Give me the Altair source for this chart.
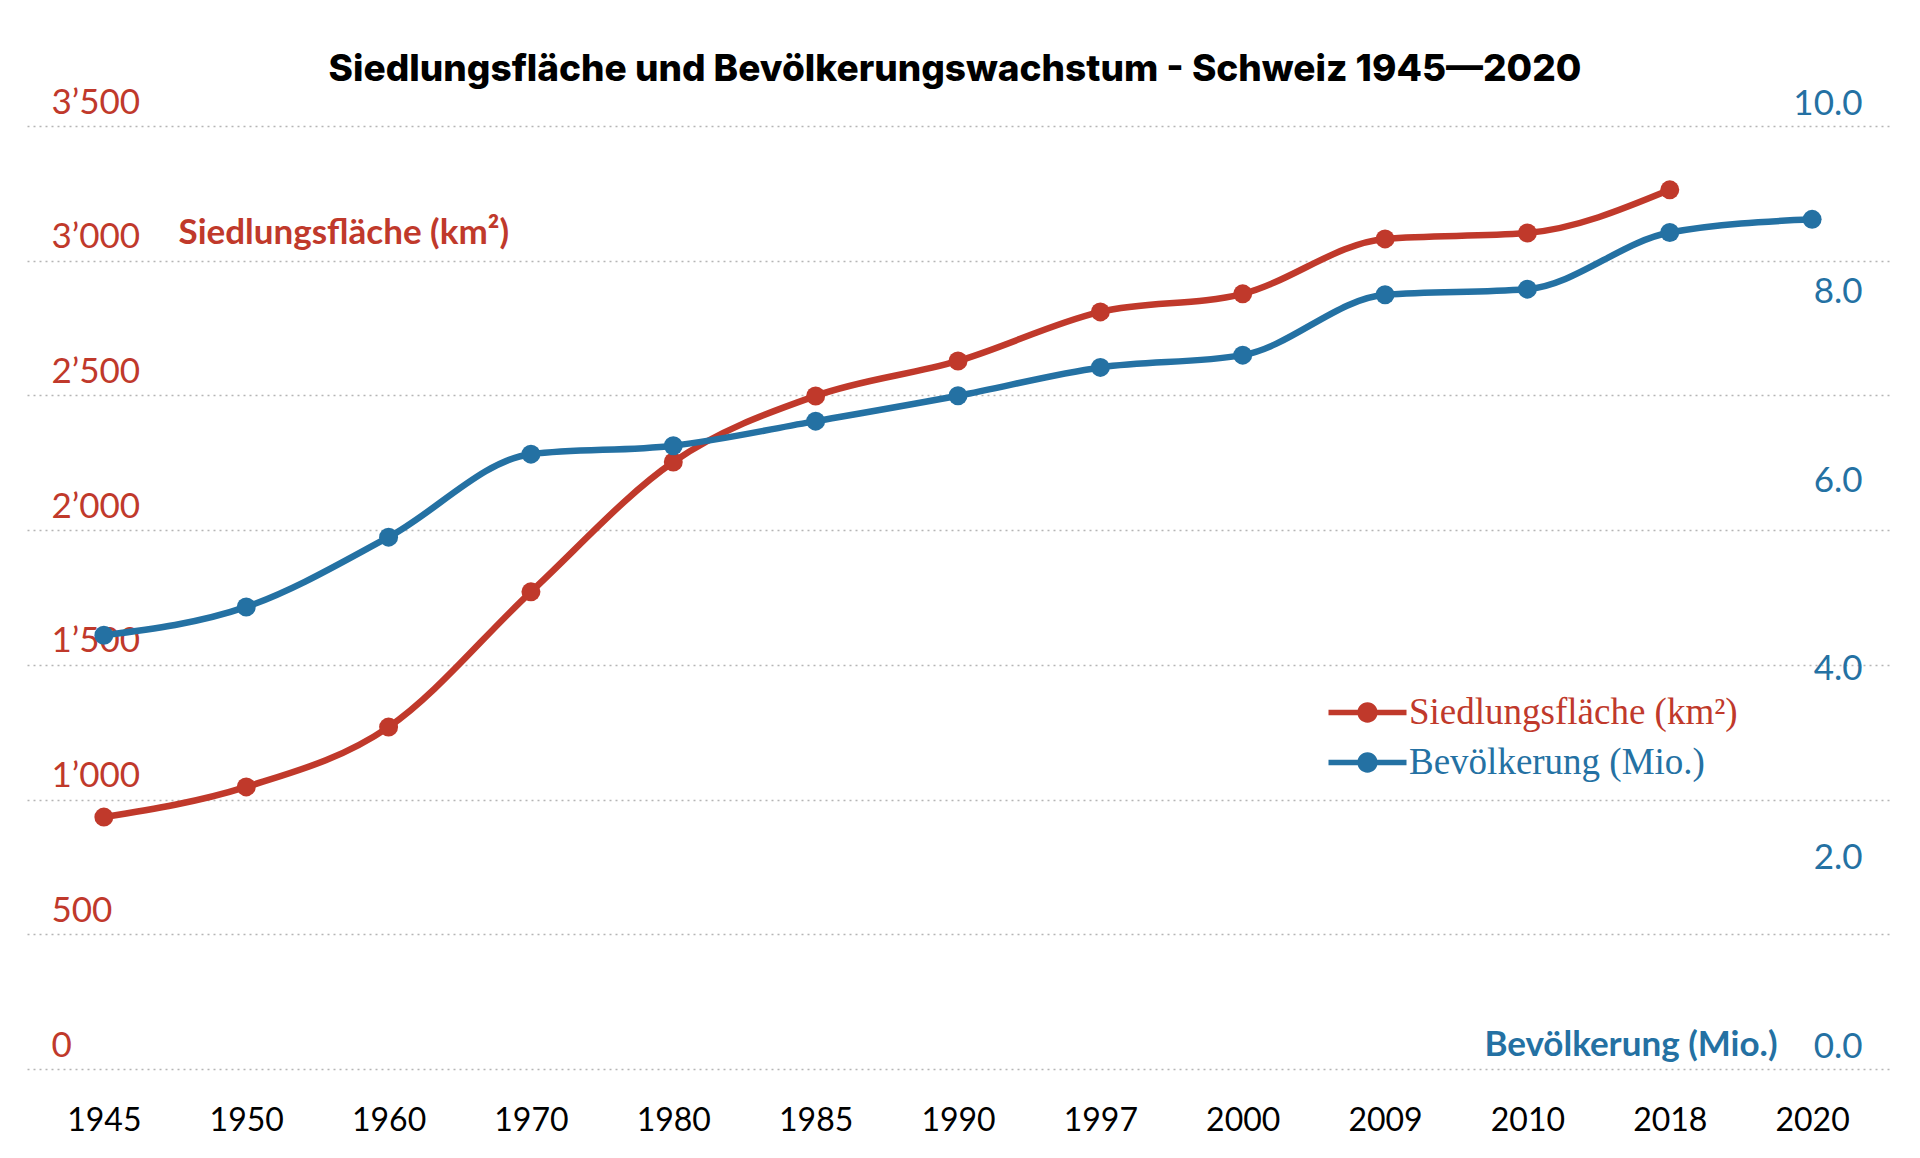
import altair as alt
import pandas as pd

# ---- data ----
years = ["1945", "1950", "1960", "1970", "1980", "1985", "1990", "1997",
         "2000", "2009", "2010", "2018", "2020"]
flaeche_years = ["1945", "1950", "1960", "1970", "1980", "1985", "1990", "1997",
                 "2000", "2009", "2010", "2018"]
flaeche_km2 = [935, 1047, 1269, 1771, 2253, 2498, 2628, 2810, 2877, 3081, 3103, 3263]
bevoelkerung_mio = [4.60, 4.90, 5.64, 6.52, 6.61, 6.87, 7.14, 7.44, 7.57, 8.21, 8.27, 8.87, 9.01]
left_ticks = [0, 500, 1000, 1500, 2000, 2500, 3000, 3500]
right_ticks = [0, 2, 4, 6, 8, 10]

name_red = "Siedlungsfläche (km²)"
name_blue = "Bevölkerung (Mio.)"
title_text = "Siedlungsfläche und Bevölkerungswachstum - Schweiz 1945—2020"

RED = "#c0392b"
BLUE = "#2471a3"

df_red = pd.DataFrame({"Jahr": flaeche_years, "Wert": flaeche_km2, "Serie": name_red})
df_blue = pd.DataFrame({"Jahr": years, "Wert": bevoelkerung_mio, "Serie": name_blue})

SANS = "Lato"
SERIF = "Liberation Serif"
LEGEND_PATH = "M-3,-0.22H3V0.22H-3Z M0.78,0A0.78,0.78,0,1,1,-0.78,0A0.78,0.78,0,1,1,0.78,0Z"

x_enc = alt.X(
    "Jahr:N",
    sort=years,
    scale=alt.Scale(type="point", domain=years, padding=0.54),
    axis=alt.Axis(
        title=None, labelAngle=0, labelFont=SANS, labelFontSize=32, labelColor="black",
        labelBaseline="alphabetic", labelPadding=61, ticks=False, tickSize=0,
        domain=False, grid=False, labelOverlap=False, labelFlush=False,
    ),
)

left_axis = alt.Axis(
    orient="left", values=left_ticks,
    labelExpr="replace(format(datum.value, ','), ',', '\u2019')",
    labelFont=SANS, labelFontSize=35, labelFontWeight="normal", labelColor=RED,
    labelAlign="left", labelBaseline="alphabetic", labelPadding=-24, labelOffset=-13,
    labelFlush=False, labelOverlap=False,
    ticks=False, tickSize=0, domain=False,
    grid=True, gridColor="#b5b5b5", gridDash=[2, 4], gridWidth=1.3,
    title=name_red, titleAngle=0, titleX=151, titleY=117, titleAlign="left",
    titleBaseline="alphabetic", titleFont=SANS, titleFontSize=35, titleFontWeight="bold",
    titleColor=RED, titleLimit=800,
)

right_axis = alt.Axis(
    orient="right", values=right_ticks, format=".1f",
    labelFont=SANS, labelFontSize=35, labelFontWeight="normal", labelColor=BLUE,
    labelAlign="right", labelBaseline="alphabetic", labelPadding=-27, labelOffset=-12,
    labelFlush=False, labelOverlap=False,
    ticks=False, tickSize=0, domain=False, grid=False,
    title=name_blue, titleAngle=0, titleX=-112, titleY=929, titleAlign="right",
    titleBaseline="alphabetic", titleFont=SANS, titleFontSize=35, titleFontWeight="bold",
    titleColor=BLUE, titleLimit=800,
)

def legend(color, ly):
    return alt.Legend(
        orient="none", legendX=1322, legendY=ly, title=None,
        symbolType=LEGEND_PATH, symbolSize=676, symbolStrokeWidth=0,
        labelFont=SERIF, labelFontSize=37, labelColor=color, labelOffset=23,
        labelLimit=600,
    )

y_red = alt.Y("Wert:Q", scale=alt.Scale(domain=[0, 3500], nice=False, zero=True), axis=left_axis)
y_blue = alt.Y("Wert:Q", scale=alt.Scale(domain=[0, 10], nice=False, zero=True), axis=right_axis)

red_line = alt.Chart(df_red).mark_line(
    interpolate="monotone", strokeWidth=6.5, color=RED
).encode(x=x_enc, y=y_red)
red_pts = alt.Chart(df_red).mark_point(filled=True, size=360, opacity=1).encode(
    x=x_enc, y=y_red,
    color=alt.Color("Serie:N", scale=alt.Scale(domain=[name_red], range=[RED]),
                    legend=legend(RED, 568)),
)
blue_line = alt.Chart(df_blue).mark_line(
    interpolate="monotone", strokeWidth=6.5, color=BLUE
).encode(x=x_enc, y=y_blue)
blue_pts = alt.Chart(df_blue).mark_point(filled=True, size=360, opacity=1).encode(
    x=x_enc, y=y_blue,
    color=alt.Color("Serie:N", scale=alt.Scale(domain=[name_blue], range=[BLUE]),
                    legend=legend(BLUE, 618)),
)

red_layer = alt.layer(red_line, red_pts)
blue_layer = alt.layer(blue_line, blue_pts)

chart = alt.layer(red_layer, blue_layer).resolve_scale(
    y="independent", color="independent"
).resolve_legend(color="independent").properties(
    width=1862, height=943,
    background="white",
    title=alt.TitleParams(
        text=title_text, font="Inter", fontSize=37, fontWeight=800, color="black",
        anchor="middle", baseline="alphabetic", offset=-33, dx=-3,
    ),
    autosize=alt.AutoSizeParams(type="none"),
    padding={"left": 19, "top": 118, "right": 18, "bottom": 70},
).configure_view(stroke="transparent", strokeWidth=0)

chart.save("out.html", embed_options={"renderer": "svg", "actions": False})
